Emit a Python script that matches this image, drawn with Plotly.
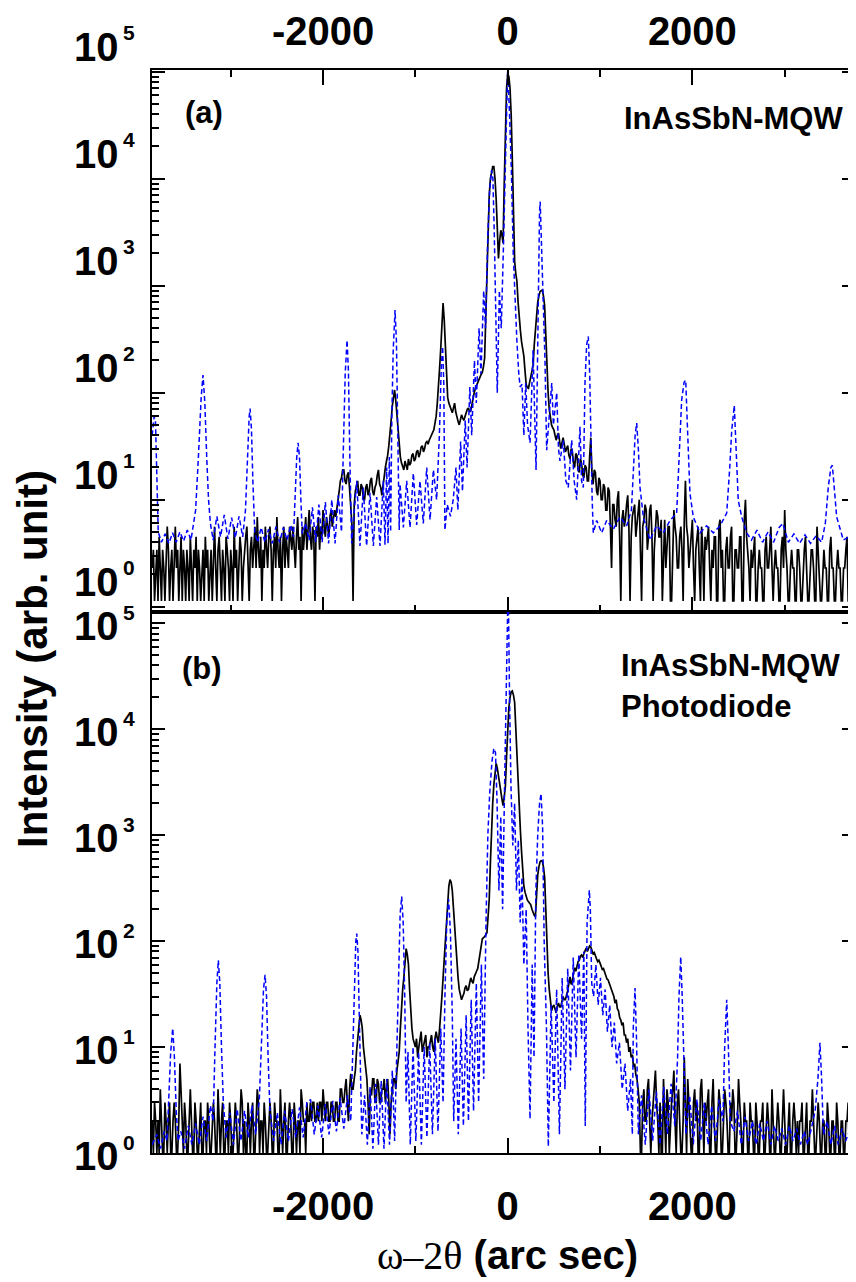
import plotly.graph_objects as go

# ---------------- data ----------------
# measured scans: uniform omega-2theta step
scan_start = -3850
scan_step = 12.5

meas_top = [
    2.3, 3.4, 1.13, 2.3, 3.4, 1.13, 4.5, 2.3, 1.13, 3.4, 2.3, 1.13, 2.3, 5.6, 3.4, 1.13, 2.3, 3.4, 1.13, 2.3,
    5.6, 2.3, 3.4, 1.13, 2.3, 4.5, 1.13, 3.4, 2.3, 1.13, 3.4, 2.3, 1.13, 4.5, 2.3, 1.13, 3.4, 2.3, 4.5, 1.13,
    3.4, 2.3, 1.13, 2.3, 3.4, 1.13, 4.5, 2.3, 3.4, 1.13, 2.3, 3.4, 1.13, 2.3, 5.6, 2.3, 1.13, 3.4, 4.5, 2.3,
    1.13, 3.4, 2.3, 1.13, 4.5, 3.4, 2.3, 1.13, 3.4, 2.3, 1.13, 5.6, 2.3, 3.4, 1.13, 2.3, 4.5, 3.4, 1.13, 2.3,
    3.4, 4.5, 5.6, 2.3, 1.13, 3.4, 4.5, 2.3, 3.4, 5.6, 2.3, 6.9, 3.4, 2.3, 4.5, 1.13, 3.4, 2.3, 5.6, 3.4,
    2.3, 4.5, 5.6, 3.4, 1.13, 3.4, 4.5, 2.3, 6.9, 3.4, 2.3, 4.5, 1.13, 3.4, 5.6, 2.3, 4.5, 3.4, 2.3, 5.6,
    4.5, 3.4, 5.6, 3.4, 2.3, 4.5, 6.9, 3.4, 4.5, 1.13, 5.6, 3.4, 4.5, 6.9, 3.4, 5.6, 8.0, 4.5, 3.4, 5.6,
    4.5, 1.13, 5.6, 4.5, 6.9, 3.4, 5.6, 4.5, 8.0, 5.6, 4.5, 6.9, 5.6, 4.5, 6.9, 8.0, 5.6, 6.9, 8.0, 6.9,
    8, 10, 12, 15, 16, 19, 19, 15, 14, 17, 18, 13, 10, 6, 1.13, 9, 12, 14, 15, 11,
    11, 14, 13, 10, 10, 13, 14, 11, 12, 15, 16, 12, 11, 13, 14, 17, 19, 14, 13, 11,
    14, 17, 20, 23, 26, 32, 40, 55, 75, 95, 106, 85, 60, 42, 30, 25, 22, 20, 19, 23,
    21, 19, 24, 21, 22, 26, 27, 23, 24, 28, 29, 25, 27, 31, 32, 28, 30, 34, 35, 33,
    36, 38, 40, 43, 45, 52, 60, 80, 110, 170, 260, 450, 690, 480, 250, 140, 90, 80, 75, 68,
    65, 72, 80, 66, 58, 54, 50, 57, 62, 58, 55, 60, 66, 70, 72, 66, 68, 80, 90, 100,
    110, 118, 125, 132, 140, 148, 155, 175, 210, 500, 1500, 3500, 7000, 10000, 12000, 13000, 13000, 10000, 6500, 3200,
    1800, 2600, 3300, 3000, 2500, 9000, 35000, 70000, 95000, 90000, 70000, 40000, 15000, 4000, 1700, 1300, 1100, 700, 480, 380,
    300, 260, 220, 160, 120, 112, 110, 125, 140, 160, 180, 280, 400, 550, 700, 800, 880, 900, 910, 800,
    650, 350, 170, 100, 70, 58, 50, 47, 45, 40, 36, 40, 42, 35, 30, 34, 38, 33, 28, 30,
    32, 26, 24, 30, 28, 22, 20, 27, 26, 19, 18, 24, 22, 17, 16, 21, 20, 15, 15, 25,
    38, 18, 14, 19, 18, 12, 11, 16, 15, 10, 10, 14, 13, 8, 8, 13, 12, 5.6, 2.3, 9,
    9, 6.5, 5.6, 10, 12, 4.5, 1.13, 6.5, 8, 5.6, 6.5, 9, 11, 5.6, 1.13, 4.5, 7, 8, 9, 4.5,
    5.6, 8, 10, 3.4, 1.13, 5.6, 6.5, 9, 8, 3.4, 4.5, 8, 9, 4.5, 1.13, 3.4, 5.6, 8, 7, 4.5,
    4.5, 6.5, 1.13, 3.4, 6.5, 2.3, 3.4, 5.6, 5.6, 1.13, 1.13, 4.5, 8, 5.6, 4.5, 2.3, 2.3, 4.5, 5.6, 3.4,
    1.13, 6.5, 15, 5.6, 4.5, 2.3, 3.4, 5.6, 6.5, 2.3, 1.13, 3.4, 4.5, 5.6, 2.3, 1.13, 5.6, 3.4, 1.13, 4.5,
    3.4, 4.5, 5.6, 2.3, 1.13, 3.4, 2.3, 4.5, 4.5, 1.13, 1.13, 5.6, 6.5, 2.3, 3.4, 1.13, 1.13, 3.4, 4.5, 2.3,
    2.3, 4.5, 5.6, 1.13, 1.13, 3.4, 3.4, 2.3, 2.3, 4.5, 4.5, 1.13, 1.13, 6.5, 10, 4.5, 3.4, 2.3, 1.13, 3.4,
    2.3, 3.4, 4.5, 1.13, 1.13, 2.3, 3.4, 2.3, 2.3, 1.13, 1.13, 3.4, 4.5, 2.3, 2.3, 3.4, 5.6, 2.3, 1.13, 2.3,
    3.4, 2.3, 2.3, 1.13, 1.13, 3.4, 4.5, 2.3, 8, 3.4, 2.3, 1.13, 1.13, 2.3, 3.4, 2.3, 2.3, 1.13, 1.13, 3.4,
    3.4, 2.3, 1.13, 1.13, 2.3, 3.4, 4.5, 2.3, 1.13, 1.13, 2.3, 3.4, 3.4, 2.3, 1.13, 1.13, 5.6, 3.4, 2.3, 1.13,
    1.13, 2.3, 3.4, 2.3, 2.3, 1.13, 1.13, 3.4, 4.5, 2.3, 2.3, 1.13, 1.13, 2.3, 3.4, 2.3, 2.3, 1.13, 1.13, 2.3,
    2.3, 3.4, 4.5, 1.13, 1.13, 3.4, 2.3, 1.13, 1.13, 2.3, 3.4,
]

meas_bottom = [
    2, 1, 3, 2, 1, 2, 1, 4, 2, 1, 1, 3, 2, 1, 2, 3, 1, 1, 2, 3,
    2, 1, 1, 2, 7, 3, 2, 1, 3, 2, 1, 1, 2, 4, 2, 1, 1, 3, 2, 1,
    1, 2, 3, 1, 1, 2, 2, 1, 3, 2, 1, 1, 2, 3, 2, 1, 1, 4, 2, 1,
    2, 3, 1, 1, 2, 2, 1, 3, 2, 1, 1, 2, 3, 2, 1, 1, 2, 4, 3, 1,
    2, 1, 1, 3, 2, 1, 2, 3, 1, 1, 2, 4, 3, 1, 2, 2, 1, 3, 2, 1,
    1, 2, 3, 2, 1, 1, 3, 2, 2, 1, 1, 4, 2, 1, 2, 3, 1, 1, 2, 3,
    2, 1, 1, 3, 2, 1, 2, 2, 1, 4, 3, 2, 2, 1, 3, 2, 2, 3, 2, 3,
    3, 2, 2, 3, 2, 3, 3, 2, 4, 3, 2, 3, 3, 2, 2, 3, 3, 2, 2, 3,
    3, 2, 2, 4, 4, 3, 3, 4, 5, 3, 2, 4, 5.6, 4, 4, 5, 6, 9, 12, 16,
    20, 18, 15, 10, 8, 6, 5, 3, 1.5, 4, 3.5, 5, 5, 3, 3, 5, 4.5, 3, 3, 4,
    4, 5, 3, 4, 5, 3, 1.5, 3, 4, 5, 5, 4, 6, 7, 9, 15, 25, 35, 45, 65,
    85, 75, 60, 35, 22, 15, 12, 11, 10, 12, 8, 10, 12, 14, 9, 10, 11, 13, 8, 10,
    10, 12, 13, 10, 9, 12, 14, 12, 11, 15, 20, 30, 45, 70, 100, 170, 250, 330, 380, 360,
    300, 200, 120, 85, 60, 45, 35, 30, 28, 30, 32, 36, 38, 34, 35, 40, 45, 42, 40, 46,
    50, 52, 55, 65, 80, 95, 105, 108, 110, 115, 120, 170, 250, 550, 1200, 2000, 3000, 4000, 4760, 4300,
    3500, 3000, 2600, 2200, 1900, 2300, 2900, 5500, 12000, 16000, 20000, 22500, 23000, 21000, 18000, 10000, 5000, 3000, 1800, 1100,
    700, 450, 330, 290, 260, 245, 235, 225, 220, 200, 185, 175, 170, 270, 420, 500, 560, 575, 570, 500,
    400, 200, 90, 50, 35, 27, 22, 24, 25, 23, 21, 24, 26, 24, 24, 27, 30, 28, 28, 31,
    34, 40, 46, 39, 42, 50, 56, 52, 60, 64, 66, 72, 74, 70, 76, 82, 86, 80, 84, 90,
    88, 80, 76, 78, 74, 68, 64, 66, 62, 57, 54, 55, 50, 47, 44, 43, 40, 37, 34, 33,
    30, 26, 28, 23, 22, 19, 18, 16, 17, 13, 13, 11, 12, 9, 10, 8, 8.5, 6.5, 7, 5.5,
    5, 4, 3, 1, 1, 3, 4, 2, 2, 4, 5, 2, 1, 2, 3, 4, 6, 3, 2, 1,
    3, 1, 1, 5, 2, 1, 4, 3, 1, 2, 3, 4, 6, 2, 1, 3, 4, 2, 1, 1,
    2, 8, 3, 1, 5, 3, 2, 1, 1, 3, 4, 2, 3, 1, 1, 4, 5, 2, 1, 3,
    2, 3, 4, 1, 1, 3, 5, 2, 1, 1, 2, 4, 3, 1, 1, 2, 4, 3, 2, 1,
    1, 3, 2, 4, 3, 1, 1, 2, 5, 3, 2, 1, 1, 3, 2, 2, 1, 1, 3, 2,
    2, 1, 1, 3, 2, 1, 1, 2, 2, 3, 1, 1, 2, 3, 2, 1, 1, 4, 2, 1,
    1, 2, 3, 2, 1, 1, 2, 4, 2, 1, 1, 2, 3, 1, 1, 2, 3, 2, 1, 2,
    1, 2, 2, 3, 1, 1, 2, 3, 1, 1, 2, 2, 4, 2, 1, 1, 2, 3, 2, 1,
    1, 2, 2, 1, 1, 3, 2, 1, 1, 2, 2, 1, 1, 3, 2, 1, 1, 2, 2, 1,
    1, 2, 2, 3, 1, 1, 2, 2, 1, 1, 2,
]

# simulated curves: (omega-2theta [arcsec], intensity)
sim_top = [
    (-3850, 40), (-3830, 60), (-3815, 55), (-3800, 20), (-3785, 5.0),
    (-3750, 4.0), (-3710, 4.8), (-3670, 3.9), (-3630, 4.9), (-3590, 4.0), (-3550, 5.0), (-3510, 4.1),
    (-3470, 5.2), (-3430, 4.2), (-3400, 6.5),
    (-3380, 8), (-3350, 25), (-3320, 90), (-3300, 146), (-3280, 80), (-3260, 25), (-3240, 10), (-3220, 6),
    (-3190, 4.2), (-3150, 7.0), (-3110, 4.5), (-3070, 7.2), (-3030, 4.3), (-2990, 6.8), (-2950, 4.4),
    (-2910, 7.0), (-2870, 4.5), (-2840, 8),
    (-2820, 25), (-2800, 60), (-2790, 71), (-2775, 45), (-2760, 15), (-2740, 5),
    (-2710, 4.0), (-2670, 5.5), (-2630, 4.0), (-2590, 5.3), (-2550, 3.9), (-2510, 5.6), (-2470, 4.0),
    (-2430, 5.5), (-2390, 4.2), (-2350, 5.8), (-2320, 4.5),
    (-2300, 12), (-2285, 25), (-2270, 34), (-2255, 25), (-2240, 10), (-2225, 4.8),
    (-2190, 6), (-2150, 4.2), (-2115, 8.5), (-2080, 4.0), (-2045, 9), (-2010, 4.0), (-1975, 9.5),
    (-1940, 3.9), (-1905, 10), (-1870, 3.9), (-1835, 11), (-1800, 5),
    (-1780, 30), (-1760, 150), (-1740, 310), (-1725, 160), (-1710, 25),
    (-1690, 3.9), (-1635, 15), (-1600, 3.7), (-1564, 13), (-1528, 3.7), (-1491, 11.6), (-1455, 3.7),
    (-1419, 10.6), (-1383, 3.7), (-1347, 15), (-1329, 3.8), (-1311, 20), (-1296, 3.9), (-1282, 25), (-1268, 5),
    (-1255, 60), (-1240, 250), (-1220, 592), (-1205, 300), (-1190, 40), (-1175, 5.2),
    (-1166, 14), (-1130, 5.5), (-1094, 15), (-1058, 5.5), (-1022, 17.7), (-986, 5.8), (-950, 15),
    (-914, 6), (-877, 20), (-841, 6.5), (-805, 19), (-770, 10),
    (-740, 40), (-720, 170), (-705, 270), (-692, 120), (-680, 5.2),
    (-655, 9), (-620, 7), (-590, 10),
    (-560, 20), (-540, 8), (-510, 35), (-490, 12), (-460, 55), (-440, 20), (-410, 113), (-390, 40),
    (-360, 200), (-340, 80), (-310, 400), (-290, 150), (-260, 900), (-240, 400), (-215, 3000),
    (-195, 8000), (-175, 12000), (-160, 10000), (-145, 3000), (-130, 600),
    (-113, 100), (-90, 900), (-70, 400), (-45, 2500), (-25, 15000), (-10, 60000), (0, 110000),
    (20, 40000), (40, 12000), (60, 2000), (80, 700), (100, 300), (120, 150), (135, 113), (155, 120),
    (175, 40), (195, 123), (215, 50), (242, 34), (275, 250), (307, 19), (330, 900), (345, 5000),
    (352, 6100), (365, 2500), (380, 1200), (404, 200), (422, 29), (450, 60), (477, 123), (495, 50),
    (512, 68), (531, 100), (550, 30), (566, 23), (602, 36), (630, 15), (656, 13), (693, 36), (720, 15),
    (747, 10), (783, 48), (800, 15), (819, 13), (837, 123), (855, 280), (873, 335), (888, 150),
    (899, 36), (915, 10), (927, 4.9),
    (964, 6.4), (1018, 4.9), (1072, 6.4), (1144, 5.3), (1216, 6.9), (1289, 5.7), (1340, 8),
    (1360, 17.7), (1380, 40), (1397, 52), (1415, 30), (1433, 13), (1469, 6.9), (1541, 4.2),
    (1614, 5.7), (1685, 4.9), (1758, 6.4), (1830, 7.5), (1860, 30), (1884, 85), (1910, 125),
    (1928, 131), (1950, 40), (1974, 11.5), (2010, 6.9), (2083, 4.9), (2155, 5.7), (2227, 4.9),
    (2300, 5.7), (2372, 7.5), (2405, 20), (2426, 44), (2454, 76), (2475, 30), (2497, 9.9),
    (2534, 6.9), (2588, 4.9),
    (2640, 4.2), (2700, 5.2), (2760, 4.0), (2820, 5.0), (2880, 4.0), (2940, 5.5), (2980, 6.0),
    (3040, 4.0), (3100, 4.8), (3160, 3.9), (3220, 4.7), (3280, 3.9), (3340, 4.6), (3400, 4.0),
    (3440, 6), (3472, 13), (3500, 20), (3516, 21), (3540, 12), (3563, 6.9), (3635, 4.2),
    (3700, 4.5), (3743, 3.9), (3775, 4.2),
]

sim_bottom = [
    (-3850, 1.2), (-3800, 1.5), (-3760, 1.1), (-3720, 1.6), (-3690, 1.3), (-3670, 3), (-3650, 9),
    (-3628, 15), (-3610, 8), (-3590, 2.5), (-3570, 1.3),
    (-3540, 1.6), (-3500, 1.1), (-3460, 1.8), (-3420, 1.2), (-3380, 1.9), (-3340, 1.2), (-3300, 2.2),
    (-3260, 1.3), (-3220, 2.8), (-3190, 2.0),
    (-3170, 10), (-3150, 40), (-3134, 66), (-3118, 40), (-3100, 10), (-3080, 3),
    (-3050, 1.4), (-3010, 2.4), (-2970, 1.2), (-2930, 2.6), (-2890, 1.3), (-2850, 2.5), (-2810, 1.4),
    (-2770, 2.8), (-2730, 1.5), (-2690, 3.2),
    (-2665, 12), (-2645, 35), (-2628, 48), (-2612, 30), (-2595, 8), (-2575, 2.5),
    (-2535, 1.3), (-2495, 2.4), (-2455, 1.2), (-2415, 2.5), (-2375, 1.3), (-2335, 2.6), (-2295, 1.4),
    (-2255, 2.7), (-2215, 1.4), (-2175, 3.0), (-2135, 3.2), (-2095, 1.5), (-2055, 2.8), (-2015, 1.4),
    (-1975, 2.9), (-1935, 1.5), (-1895, 3.1), (-1855, 1.6), (-1815, 3.3), (-1775, 1.7), (-1735, 3.5),
    (-1700, 2.0),
    (-1680, 8), (-1660, 40), (-1645, 100), (-1635, 118), (-1622, 80), (-1610, 25), (-1595, 5), (-1580, 1.5),
    (-1550, 3.5), (-1520, 1.2), (-1490, 4.2), (-1460, 1.1), (-1430, 4.5), (-1400, 1.2), (-1370, 4.8),
    (-1340, 1.1), (-1310, 5), (-1280, 1.2), (-1250, 6), (-1225, 1.3), (-1200, 10),
    (-1185, 40), (-1165, 180), (-1148, 263), (-1132, 150), (-1115, 30), (-1100, 3),
    (-1080, 9), (-1055, 1.2), (-1025, 10), (-995, 1.3), (-965, 9), (-935, 1.2), (-905, 10), (-875, 1.4),
    (-845, 11), (-815, 1.5), (-785, 12), (-755, 1.6), (-725, 15), (-700, 3),
    (-680, 30), (-660, 150), (-640, 250), (-620, 120), (-600, 20), (-585, 2),
    (-560, 12), (-535, 1.5), (-505, 15), (-480, 1.8), (-450, 20), (-425, 2.0), (-395, 28), (-370, 2.5),
    (-340, 40), (-315, 3), (-285, 60), (-260, 5), (-235, 150), (-215, 1000),
    (-195, 2500), (-170, 5000), (-150, 6600), (-132, 6000), (-115, 2000), (-95, 300), (-75, 1500),
    (-55, 200), (-35, 2500), (-20, 20000), (0, 250000), (5, 250000), (20, 20000), (35, 3000), (55, 800),
    (75, 2000), (95, 300), (115, 900), (135, 150), (155, 400), (175, 60), (200, 200), (220, 15),
    (242, 2.1), (265, 60), (285, 8), (305, 300), (325, 1000), (345, 2000), (361, 2470), (378, 1200),
    (395, 100),
    (420, 15), (440, 1.15), (470, 25), (500, 3), (530, 35), (560, 1.5), (590, 45), (620, 4), (650, 55),
    (680, 6), (710, 70), (740, 8), (770, 75), (800, 12), (825, 80), (840, 1.8), (860, 150), (875, 290),
    (884, 303), (895, 200), (910, 40),
    (930, 30), (955, 60), (980, 25), (1005, 45), (1030, 20), (1055, 35), (1080, 14), (1105, 25),
    (1130, 10), (1155, 17), (1180, 7), (1210, 11), (1240, 4), (1270, 7), (1300, 2.5), (1330, 5),
    (1350, 1.5), (1360, 15), (1379, 36), (1395, 12), (1415, 1.5),
    (1450, 3.5), (1490, 1.2), (1530, 4.0), (1570, 1.3), (1610, 3.8), (1650, 1.2), (1690, 4.2),
    (1730, 1.5), (1770, 4.5), (1810, 1.8), (1840, 8),
    (1855, 30), (1874, 71), (1890, 30), (1910, 5), (1930, 1.5),
    (1970, 3.5), (2010, 1.2), (2050, 3.2), (2090, 1.3), (2130, 3.0), (2170, 1.2), (2210, 2.8),
    (2250, 1.3), (2290, 3.2), (2330, 2.0),
    (2350, 10), (2372, 28), (2390, 10), (2410, 2),
    (2450, 1.6), (2490, 2.5), (2530, 1.2), (2570, 2.2), (2610, 1.3), (2650, 2.0), (2690, 1.2),
    (2730, 1.9), (2770, 1.3), (2810, 2.0), (2850, 1.2), (2890, 1.8), (2930, 1.3), (2970, 1.7),
    (3010, 1.2), (3050, 1.8), (3090, 1.3), (3130, 1.7), (3170, 1.2), (3210, 1.6), (3250, 1.2),
    (3290, 1.8), (3330, 2.5),
    (3360, 5), (3382, 11), (3400, 5), (3420, 1.5),
    (3460, 2.0), (3500, 1.2), (3540, 1.8), (3580, 1.2), (3620, 1.7), (3660, 1.3), (3700, 1.6),
    (3740, 1.2), (3775, 1.5),
]

x_ticks = [-2000, 0, 2000]
x_tick_text = ["-2000", "0", "2000"]
x_minor = [-3000, -1000, 1000, 3000]
decades = [0, 1, 2, 3, 4, 5]
panel_a_label = "(a)"
panel_b_label = "(b)"
sample_a = "InAsSbN-MQW"
sample_b = ["InAsSbN-MQW", "Photodiode"]

# ---------------- figure geometry ----------------
SANS = "Liberation Sans, Arial, sans-serif"
BLACK = "#000000"
BLUE = "#0000ff"

# the page body adds an 8 px margin; figure is sized so the plot lands where intended
FIG_W, FIG_H = 848, 1274
M_L, M_R, M_T, M_B = 144, 1, 62, 129
PLOT_W = FIG_W - M_L - M_R          # 703
PLOT_H = FIG_H - M_T - M_B          # 1083
split = 0.49954
XR = [-3852.5, 3761.5]
YR_TOP = [-0.0495, 5.0159]
YR_BOT = [0, 5.107]

x_scan_top = [scan_start + scan_step * i for i in range(len(meas_top))]
x_scan_bottom = [scan_start + scan_step * i for i in range(len(meas_bottom))]

fig = go.Figure()
fig.add_trace(go.Scatter(x=x_scan_top, y=meas_top, mode="lines",
                         line=dict(color=BLACK, width=1.7), xaxis="x", yaxis="y",
                         showlegend=False))
fig.add_trace(go.Scatter(x=[p[0] for p in sim_top], y=[p[1] for p in sim_top], mode="lines",
                         line=dict(color=BLUE, width=1.5, dash="5px,3px"), xaxis="x", yaxis="y",
                         showlegend=False))
fig.add_trace(go.Scatter(x=x_scan_bottom, y=meas_bottom, mode="lines",
                         line=dict(color=BLACK, width=1.7), xaxis="x2", yaxis="y2",
                         showlegend=False))
fig.add_trace(go.Scatter(x=[p[0] for p in sim_bottom], y=[p[1] for p in sim_bottom], mode="lines",
                         line=dict(color=BLUE, width=1.5, dash="5px,3px"), xaxis="x2", yaxis="y2",
                         showlegend=False))

tickfont = dict(family=SANS, size=40, color=BLACK, weight="bold")

minor_top = [k * 10 ** n for n in range(-1, 6) for k in range(2, 10)]
minor_bot = [k * 10 ** n for n in range(0, 6) for k in range(2, 10)]

common_x = dict(range=XR, showgrid=False, zeroline=False, showline=True, linewidth=2,
                linecolor=BLACK, ticks="inside", ticklen=15, tickwidth=2, tickcolor=BLACK,
                tickmode="array", tickvals=x_ticks, ticktext=x_tick_text, tickfont=tickfont,
                minor=dict(tickmode="array", tickvals=x_minor, ticks="inside", ticklen=7,
                           tickwidth=2, tickcolor=BLACK, showgrid=False))

common_y = dict(type="log", showgrid=False, zeroline=False, showline=True, linewidth=2,
                linecolor=BLACK, ticks="inside", ticklen=13, tickwidth=2, tickcolor=BLACK,
                mirror="ticks", tickmode="array", tickvals=[10 ** d for d in decades],
                showticklabels=False)

fig.update_layout(
    width=FIG_W, height=FIG_H,
    margin=dict(l=M_L, r=M_R, t=M_T, b=M_B, pad=0, autoexpand=False),
    paper_bgcolor="white", plot_bgcolor="white",
    showlegend=False,
    xaxis=dict(common_x, anchor="y", side="top", domain=[0, 1], mirror="ticks",
               ticklabelstandoff=7),
    yaxis=dict(common_y, domain=[split, 1], range=YR_TOP, anchor="x",
               minor=dict(tickmode="array", tickvals=minor_top, ticks="inside", ticklen=7,
                          tickwidth=1.5, tickcolor=BLACK, showgrid=False)),
    xaxis2=dict(common_x, anchor="y2", side="bottom", domain=[0, 1], mirror=True,
                ticklabelstandoff=17),
    yaxis2=dict(common_y, domain=[0, split], range=YR_BOT, anchor="x2",
                minor=dict(tickmode="array", tickvals=minor_bot, ticks="inside", ticklen=7,
                           tickwidth=1.5, tickcolor=BLACK, showgrid=False)),
)


def paper_x(px):
    return (px - M_L) / PLOT_W


def decade_paper(d, yr, dom):
    return dom[0] + (d - yr[0]) / (yr[1] - yr[0]) * (dom[1] - dom[0])


ann = []
# decade labels "10" + exponent; panel (a) labels sit ~25 px above their ticks as in the original
for d in decades:
    for yr, dom, shift_px in ((YR_TOP, [split, 1], 25), (YR_BOT, [0, split], -3)):
        yc = decade_paper(d, yr, dom) + shift_px / PLOT_H
        ann.append(dict(text="10", xref="paper", yref="paper", x=paper_x(113), y=yc,
                        xanchor="right", yanchor="middle", showarrow=False, font=tickfont))
        ann.append(dict(text=str(d), xref="paper", yref="paper", x=paper_x(112.5),
                        y=yc + 14 / PLOT_H, xanchor="left", yanchor="middle", showarrow=False,
                        font=dict(family=SANS, size=21, color=BLACK, weight="bold")))

lab_font = dict(family=SANS, size=31, color=BLACK, weight="bold")
ann += [
    dict(text=panel_a_label, xref="paper", yref="paper", x=0.0441, y=0.9603,
         xanchor="left", yanchor="middle", showarrow=False, font=lab_font),
    dict(text=sample_a, xref="paper", yref="paper", x=0.668, y=0.9548,
         xanchor="left", yanchor="middle", showarrow=False, font=lab_font),
    dict(text=panel_b_label, xref="paper", yref="paper", x=0.0398, y=0.4478,
         xanchor="left", yanchor="middle", showarrow=False, font=lab_font),
    dict(text=sample_b[0], xref="paper", yref="paper", x=0.6643, y=0.4506,
         xanchor="left", yanchor="middle", showarrow=False, font=lab_font),
    dict(text=sample_b[1], xref="paper", yref="paper", x=0.6643, y=0.4127,
         xanchor="left", yanchor="middle", showarrow=False, font=lab_font),
    dict(text="Intensity (arb. unit)", xref="paper", yref="paper", x=-0.1707, y=0.4561,
         xanchor="center", yanchor="middle", textangle=-90, showarrow=False,
         font=dict(family=SANS, size=42, color=BLACK, weight="bold")),
    dict(text="<span style='font-family:Liberation Serif;font-weight:normal'>\u03c9\u20132\u03b8</span> (arc sec)",
         xref="paper", yref="paper", x=0.5057, y=-0.0942, xanchor="center", yanchor="middle",
         showarrow=False, font=dict(family=SANS, size=40, color=BLACK, weight="bold")),
]
fig.update_layout(annotations=ann)

fig.write_html("out.html")
